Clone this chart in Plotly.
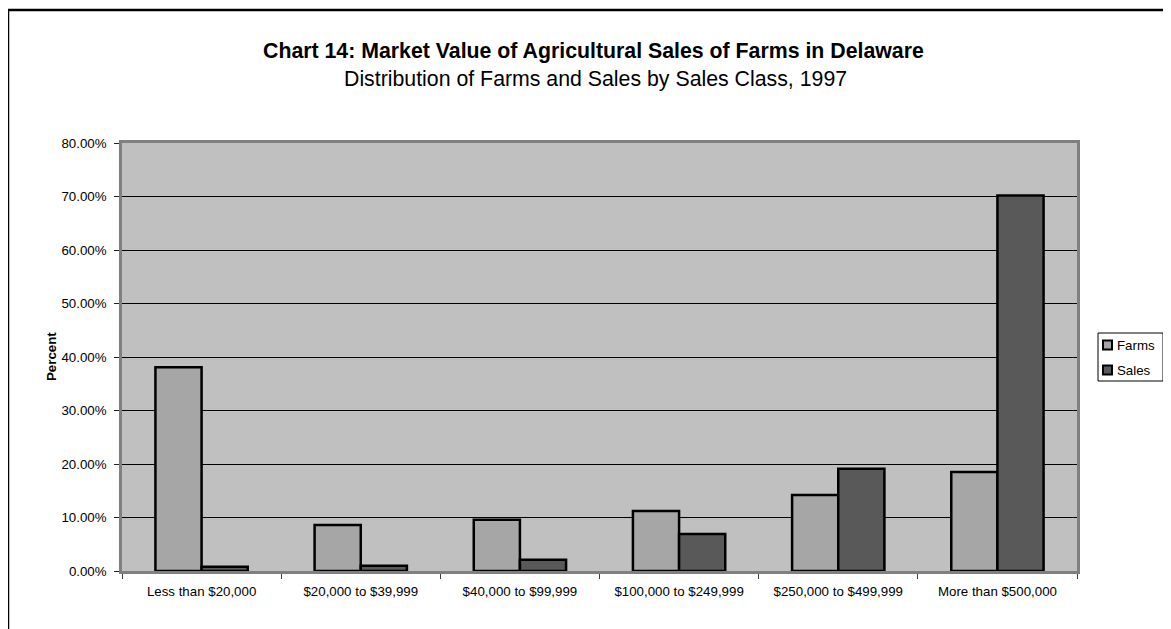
import plotly.graph_objects as go

categories = ["Less than $20,000", "$20,000 to $39,999", "$40,000 to $99,999",
              "$100,000 to $249,999", "$250,000 to $499,999", "More than $500,000"]
series_names = ["Farms", "Sales"]
farms = [38.1, 8.6, 9.6, 11.2, 14.2, 18.5]
sales = [0.8, 1.0, 2.1, 6.9, 19.1, 70.2]
series_colors = ["#a6a6a6", "#595959"]
y_ticks = [0, 10, 20, 30, 40, 50, 60, 70, 80]
y_tick_labels = [f"{v:.2f}%" for v in y_ticks]

# page body has an 8px default margin; work in reference pixels and shift
OFF = 8
W, H = 1171 - OFF, 629 - OFF
L, R, T, B = 122 - OFF, 1077 - OFF, 143 - OFF, 571 - OFF
FONT = "Arial, Liberation Sans, sans-serif"


def px_x(p):
    return (p - OFF - L) / (R - L)


def px_y(p):
    return (B - (p - OFF)) / (B - T)


fig = go.Figure()
for name, vals, col in zip(series_names, [farms, sales], series_colors):
    fig.add_trace(go.Bar(name=name, x=categories, y=vals, showlegend=False,
                         marker=dict(color=col, line=dict(color="black", width=2.5))))

shapes = [
    # outer chart frame (extends beyond the visible window on right/bottom)
    dict(type="rect", xref="paper", yref="paper",
         x0=px_x(8), y0=px_y(700), x1=px_x(1250), y1=px_y(10),
         line=dict(color="black", width=2.5), fillcolor="rgba(0,0,0,0)", layer="above"),
    # legend box
    dict(type="rect", xref="paper", yref="paper",
         x0=px_x(1098), y0=px_y(381), x1=px_x(1163), y1=px_y(333),
         line=dict(color="black", width=1), fillcolor="white", layer="above"),
]
annotations = [
    dict(text="<b>Chart 14: Market Value of Agricultural Sales of Farms in Delaware</b>",
         x=px_x(593.5), y=px_y(51), xref="paper", yref="paper", showarrow=False,
         xanchor="center", yanchor="middle", font=dict(size=21.3, family=FONT)),
    dict(text="Distribution of Farms and Sales by Sales Class, 1997",
         x=px_x(595), y=px_y(79), xref="paper", yref="paper", showarrow=False,
         xanchor="center", yanchor="middle", font=dict(size=21.3, family=FONT)),
    dict(text="<b>Percent</b>", textangle=-90,
         x=px_x(51), y=px_y(357), xref="paper", yref="paper", showarrow=False,
         xanchor="center", yanchor="middle", font=dict(size=13.3, family=FONT)),
]
legend_rows = [345, 370]
for name, col, yc in zip(series_names, series_colors, legend_rows):
    shapes.append(dict(type="rect", xref="paper", yref="paper",
                       x0=px_x(1103), x1=px_x(1112), y0=px_y(yc + 4.5), y1=px_y(yc - 4.5),
                       line=dict(color="black", width=2), fillcolor=col, layer="above"))
    annotations.append(dict(text=name, x=px_x(1115), y=px_y(yc), xref="paper", yref="paper",
                            showarrow=False, xanchor="left", yanchor="middle",
                            font=dict(size=13.3, family=FONT)))

fig.update_layout(
    width=W, height=H,
    margin=dict(l=L, r=W - R, t=T, b=H - B, pad=0, autoexpand=False),
    paper_bgcolor="white", plot_bgcolor="#c0c0c0",
    barmode="group", bargap=0.42, bargroupgap=0,
    font=dict(family=FONT, color="black", size=13.3),
    showlegend=False,
    annotations=annotations,
    shapes=shapes,
)

fig.update_xaxes(type="category", showline=True, linecolor="#808080", linewidth=2.5,
                 mirror=True, ticks="outside", tickson="boundaries", ticklen=5,
                 tickcolor="#404040", showgrid=False, ticklabelstandoff=6,
                 tickfont=dict(size=13.3, family=FONT))
fig.update_yaxes(range=[0, 80], tickvals=y_ticks, ticktext=y_tick_labels,
                 showline=True, linecolor="#808080", linewidth=2.5, mirror=True,
                 ticks="outside", ticklen=5, tickcolor="#202020",
                 showgrid=True, gridcolor="black", gridwidth=1, zeroline=False,
                 ticklabelstandoff=5,
                 tickfont=dict(size=13.3, family=FONT))

fig.write_html("out.html")
